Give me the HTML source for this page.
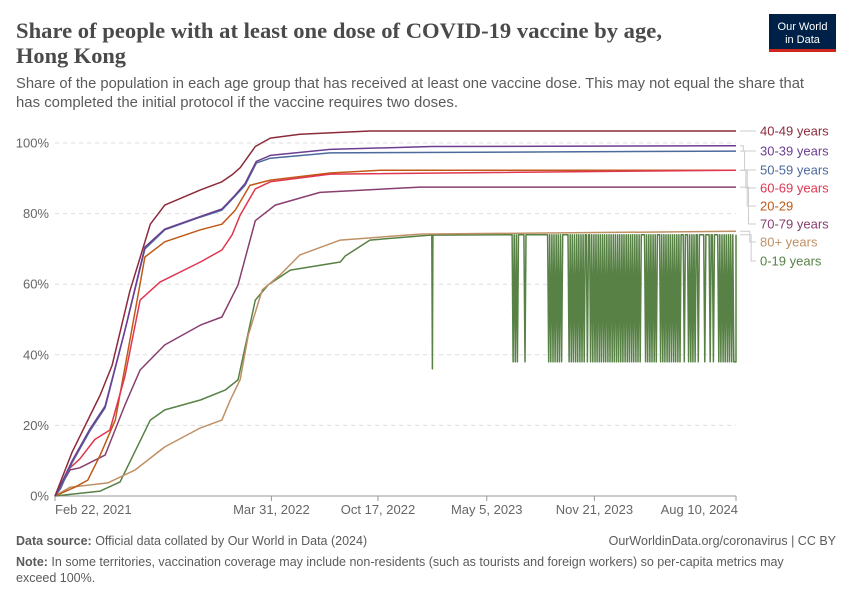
<!DOCTYPE html>
<html><head><meta charset="utf-8"><style>
html,body{margin:0;padding:0;background:#fff;}
svg{display:block;font-family:"Liberation Sans",sans-serif;}
</style></head><body>
<svg id="chart" width="850" height="600" viewBox="0 0 850 600" xmlns="http://www.w3.org/2000/svg">
<rect width="850" height="600" fill="#fff"/>
<text x="16" y="38" font-family="Liberation Serif,serif" font-weight="bold" font-size="22" fill="#4a4a4a" textLength="646" lengthAdjust="spacingAndGlyphs">Share of people with at least one dose of COVID-19 vaccine by age,</text>
<text x="16" y="63" font-family="Liberation Serif,serif" font-weight="bold" font-size="22" fill="#4a4a4a" textLength="110" lengthAdjust="spacingAndGlyphs">Hong Kong</text>
<text x="16" y="88" font-size="14.5" fill="#5b5b5b" textLength="788" lengthAdjust="spacingAndGlyphs">Share of the population in each age group that has received at least one vaccine dose. This may not equal the share that</text>
<text x="16" y="107" font-size="14.5" fill="#5b5b5b" textLength="442" lengthAdjust="spacingAndGlyphs">has completed the initial protocol if the vaccine requires two doses.</text>
<g>
<rect x="769" y="14" width="67" height="35" fill="#002147"/>
<rect x="769" y="49" width="67" height="3" fill="#ce261e"/>
<text x="802.5" y="30" font-size="11" fill="#fff" text-anchor="middle">Our World</text>
<text x="802.5" y="43" font-size="11" fill="#fff" text-anchor="middle">in Data</text>
</g>
<g id="grid"></g><g id="yt"></g><g id="xt"></g><g id="lines"></g><g id="legend"></g>
<text x="16" y="545" font-size="12.5" fill="#5b5b5b"><tspan font-weight="bold">Data source:</tspan> Official data collated by Our World in Data (2024)</text>
<text x="836" y="545" font-size="12.5" fill="#5b5b5b" text-anchor="end">OurWorldinData.org/coronavirus | CC BY</text>
<text x="16" y="566" font-size="12.5" fill="#5b5b5b"><tspan font-weight="bold">Note:</tspan> In some territories, vaccination coverage may include non-residents (such as tourists and foreign workers) so per-capita metrics may</text>
<text x="16" y="582" font-size="12.5" fill="#5b5b5b">exceed 100%.</text>
</svg>
<script>
// x = days since Feb 22, 2021
const seriesNames = ["40-49 years","30-39 years","50-59 years","60-69 years","20-29","70-79 years","80+ years","0-19 years"];
const seriesColors = ["#8c2a3a","#6d3e91","#4c6a9c","#e0364f","#c05917","#883e6f","#c09065","#578145"];
const days4049 = [0,32,84,106,139,177,204,270,310,329,344,372,400,455,585,1265];
const vals4049 = [0,12.5,28.6,37,58,77,82.4,86.7,89,91,93,99,101.4,102.5,103.4,103.4];
const days3039 = [0,10,32,65,93,130,167,204,270,310,335,353,374,400,511,700,1265];
const vals3039 = [0,3,10,19,25.5,47,70.5,75.6,79.2,81.3,85.3,88.5,94.8,96.5,98.2,99,99.2];
const days5059 = [0,10,32,65,93,130,167,204,270,310,335,353,374,400,511,1265];
const vals5059 = [0,2,9.5,18.5,25,47,70,75.4,79,81,85,88,94.3,95.7,97.2,97.7];
const days6069 = [0,28,46,74,102,130,158,195,270,310,329,344,372,400,511,1265];
const vals6069 = [0,8,10.5,16,18.7,34,55.5,60.6,66.3,69.7,74,79.6,87,89,91.2,92.3];
const days2029 = [0,37,61,84,112,139,167,204,270,310,335,362,400,511,604,1265];
const vals2029 = [0,2.5,4.5,11.6,21.5,44,67.7,72,75.4,77,81,88,89.5,91.5,92.3,92.3];
const days7079 = [0,28,46,93,130,158,204,270,310,340,372,409,492,678,1265];
const vals7079 = [0,7.4,8,11.6,25.8,35.7,42.8,48.4,50.7,59.8,78,82.4,86,87.5,87.5];
const days80 = [0,28,98,149,204,270,310,325,344,359,385,418,455,530,678,1265];
const vals80 = [0,2.5,3.7,7.4,13.9,19.3,21.5,27,33,45.6,58.4,62.6,68.3,72.5,74.2,75];
const days019 = [0,84,121,177,204,270,316,340,372,396,437,530,539,585,697,700,701,702,849];
const vals019 = [0,1.4,4,21.5,24.4,27.2,30,32.9,55.5,59.8,64,66.3,68,72.5,73.9,73.9,36,73.9,74];
// 0-19 from day 849 onward, one symbol every 2 days: H = 74%, L = 38%
const noise019 = "LHLHLH"+"HHHHH"+"L"+"HHHHHHHHHHHHHHHHHHHHH"+"LHLHLHLHLHLHLH"+"HHHHH"+"LHLHLHLHLHLHLHL"+"HHLHH"+"LHLHLHLHLHLHLHLHLHLHLHLHLHLHLHLHLHLHLHLHLHLHLHLH"+"HHH"+"LHLHLHLHLHL"+"HHH"+"LHLHLHLHLHLHLHLHLHL"+"HHHLHHH"+"LHLHLHL"+"HHLHHHHHLHHHH"+"LHHLHHHH"+"LHLHLHLHLHLHLHL"+"LLLH";
const noiseHigh = 74, noiseLow = 38, noiseStart = 849, noiseStep = 2;
const yTicks = [0,20,40,60,80,100];
const xTickDays = [0,402,600,802,1002,1265];
const xTickLabels = ["Feb 22, 2021","Mar 31, 2022","Oct 17, 2022","May 5, 2023","Nov 21, 2023","Aug 10, 2024"];
const legendY = [131,151,170,188,206,224,242,261];

const NS="http://www.w3.org/2000/svg";
const X0=55,X1=736,Y0=496,Y100=143,DMAX=1265;
const xs=d=>X0+(X1-X0)*d/DMAX;
const ys=v=>Y0-(Y0-Y100)*v/100;
function mk(tag,parent){const e=document.createElementNS(NS,tag);document.getElementById(parent).appendChild(e);return e;}

yTicks.forEach(t=>{
  if(t>0){const g=mk("line","grid");
  
  
  g.setAttribute("x1",X0);g.setAttribute("x2",X1);g.setAttribute("y1",ys(t));g.setAttribute("y2",ys(t));
  g.setAttribute("stroke","#ddd");g.setAttribute("stroke-dasharray","4,4");}
  const l=mk("text","yt");
  
  
  l.setAttribute("x",49);l.setAttribute("y",ys(t)+4.5);l.setAttribute("text-anchor","end");
  l.setAttribute("font-size","13");l.setAttribute("fill","#666");l.textContent=t+"%";
});
const ax=mk("line","xt");


ax.setAttribute("x1",X0);ax.setAttribute("x2",X1);ax.setAttribute("y1",Y0);ax.setAttribute("y2",Y0);ax.setAttribute("stroke","#999");
xTickDays.forEach((d,i)=>{
  const tk=mk("line","xt");
  
  
  tk.setAttribute("x1",xs(d));tk.setAttribute("x2",xs(d));tk.setAttribute("y1",Y0);tk.setAttribute("y2",Y0+5);tk.setAttribute("stroke","#999");
  const l=mk("text","xt");
  
  
  let anchor="middle",x=xs(d);
  if(i===0){anchor="start";}
  if(i===xTickDays.length-1){anchor="end";x=X1+2;}
  l.setAttribute("x",x);l.setAttribute("y",514);l.setAttribute("text-anchor",anchor);
  l.setAttribute("font-size","13");l.setAttribute("fill","#666");l.textContent=xTickLabels[i];
});

const green=[];
days019.forEach((d,i)=>green.push([d,vals019[i]]));
for(let i=0;i<noise019.length;i++){
  const d=Math.min(noiseStart+noiseStep*(i+1),DMAX);
  green.push([d,noise019[i]==="H"?noiseHigh:noiseLow]);
}
const allSeries=[
  days4049.map((d,i)=>[d,vals4049[i]]),
  days3039.map((d,i)=>[d,vals3039[i]]),
  days5059.map((d,i)=>[d,vals5059[i]]),
  days6069.map((d,i)=>[d,vals6069[i]]),
  days2029.map((d,i)=>[d,vals2029[i]]),
  days7079.map((d,i)=>[d,vals7079[i]]),
  days80.map((d,i)=>[d,vals80[i]]),
  green
];
const drawOrder=[7,6,5,4,3,2,1,0];
drawOrder.forEach(k=>{
  const p=mk("path","lines");
  
  
  p.setAttribute("d",allSeries[k].map((pt,i)=>(i?"L":"M")+xs(pt[0]).toFixed(1)+","+ys(pt[1]).toFixed(1)).join(""));
  p.setAttribute("fill","none");p.setAttribute("stroke",seriesColors[k]);p.setAttribute("stroke-width","1.5");
  p.setAttribute("stroke-linejoin","round");
});
seriesNames.forEach((n,k)=>{
  const s=allSeries[k];const yEnd=ys(s[s.length-1][1]);
  const ly=legendY[k];
  const c=mk("path","legend");
  
  
  const mx=742+k*1.3;
  c.setAttribute("d",`M740,${yEnd.toFixed(1)}H${mx}V${ly}H756`);
  c.setAttribute("fill","none");c.setAttribute("stroke","#ccc");c.setAttribute("stroke-width","1");
  const t=mk("text","legend");
  
  
  t.setAttribute("x",760);t.setAttribute("y",ly+4.5);t.setAttribute("font-size","13");
  t.setAttribute("fill",seriesColors[k]);t.textContent=n;
});
</script>
</body></html>
